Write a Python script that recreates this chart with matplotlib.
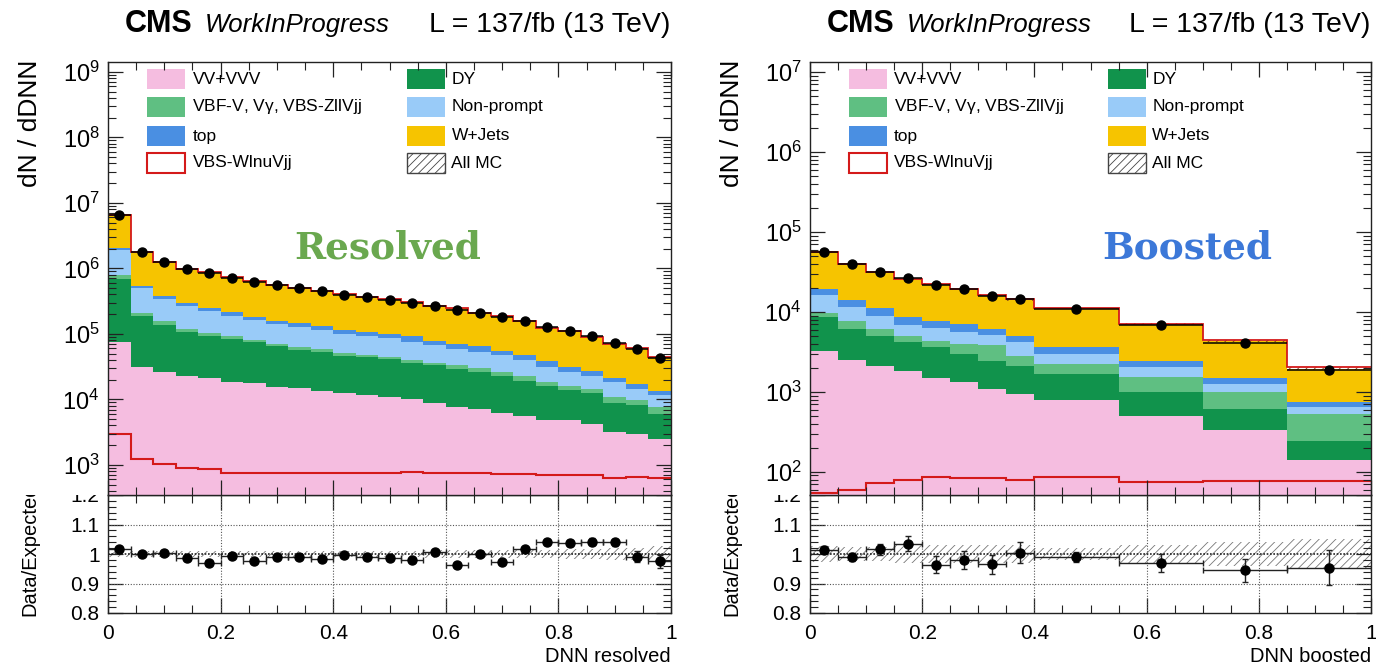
import numpy as np
import matplotlib
matplotlib.use("Agg")
import matplotlib.pyplot as plt
from matplotlib.patches import Rectangle
from matplotlib.ticker import MultipleLocator, FixedLocator, NullFormatter, FuncFormatter, LogFormatterSciNotation

plt.rcParams['font.family'] = ['Liberation Sans', 'DejaVu Sans']
plt.rcParams['hatch.linewidth'] = 0.6
plt.rcParams['mathtext.default'] = 'regular'

# ---------------- data: resolved ----------------
res_edges = [0.00, 0.04, 0.08, 0.12, 0.16, 0.20, 0.24, 0.28, 0.32, 0.36, 0.40, 0.44, 0.48,
             0.52, 0.56, 0.60, 0.64, 0.68, 0.72, 0.76, 0.80, 0.84, 0.88, 0.92, 0.96, 1.00]
res_vv = [74000, 31600, 26000, 22400, 20900, 18600, 17800, 15700, 14800, 13650, 12300, 11750, 10960,
          10230, 8910, 7760, 7080, 6170, 5500, 4900, 4790, 4170, 3160, 2950, 2450]
res_dy = [618000, 156800, 111100, 86000, 70300, 64600, 56300, 48900, 42700, 38850, 33400, 31900, 29740,
          26070, 24190, 21740, 18920, 16730, 13550, 11300, 9170, 8130, 5750, 5370, 3440]
res_vbf = [102000, 18600, 17800, 10700, 11100, 10100, 7200, 5600, 6600, 6400, 5600, 4250, 4000,
           3500, 3200, 3600, 4200, 3400, 3350, 2400, 2240, 2000, 2050, 1450, 1700]
res_np = [1111000, 292000, 187100, 143900, 121600, 97200, 80900, 72100, 64200, 55900, 48700, 45400, 40400,
          36100, 31300, 25800, 23500, 20500, 17400, 13000, 10100, 8600, 7240, 4530, 4160]
res_top = [137000, 42000, 38200, 32100, 27300, 23300, 19800, 17200, 15700, 17000, 14800, 15100, 14900,
           15300, 10000, 10300, 10900, 8200, 7000, 6400, 5300, 4300, 3200, 2700, 1900]
res_w = [4461000, 1225000, 886000, 694800, 619900, 515000, 449800, 395000, 362800, 322200, 284100, 254500, 236100,
         210500, 183800, 174700, 144300, 131900, 109200, 85600, 76700, 62340, 48280, 42430, 30060]
res_sig = [2950, 1230, 1020, 890, 870, 760, 760, 745, 745, 745, 745, 745, 760,
           770, 760, 745, 740, 735, 720, 700, 690, 700, 640, 650, 630]
res_data = [6607000, 1766000, 1270000, 977000, 845000, 724400, 616600, 549500, 501200, 446700, 398100, 358900, 331100,
            295100, 263000, 234400, 208900, 182000, 158500, 128800, 112200, 93300, 72400, 58900, 42660]
res_ratio_err = [0.006, 0.005, 0.005, 0.005, 0.006, 0.005, 0.006, 0.005, 0.005, 0.005, 0.005, 0.005, 0.005,
                 0.005, 0.006, 0.006, 0.006, 0.006, 0.008, 0.010, 0.010, 0.012, 0.013, 0.018, 0.022]
res_mc_unc = [0.010, 0.010, 0.010, 0.010, 0.010, 0.010, 0.010, 0.010, 0.010, 0.010, 0.010, 0.010, 0.010,
              0.010, 0.012, 0.012, 0.013, 0.013, 0.014, 0.015, 0.016, 0.017, 0.019, 0.022, 0.026]

# ---------------- data: boosted ----------------
boo_edges = [0.00, 0.05, 0.10, 0.15, 0.20, 0.25, 0.30, 0.35, 0.40, 0.55, 0.70, 0.85, 1.00]
boo_vv = [3220, 2535, 2090, 1810, 1500, 1330, 1100, 927, 802, 497, 329, 140]
boo_dy = [5490, 3635, 2880, 2360, 2110, 1660, 1315, 1163, 878, 503, 288, 105]
boo_vbf = [1060, 1470, 1060, 890, 760, 1030, 1475, 700, 580, 540, 383, 276]
boo_np = [6710, 3910, 2800, 1860, 1940, 1600, 1320, 1430, 725, 513, 259, 122]
boo_top = [3020, 2710, 2390, 1740, 1330, 1460, 920, 840, 625, 402, 237, 107]
boo_w = [35900, 25940, 19880, 17040, 14660, 12420, 10140, 9170, 7500, 4565, 2844, 1200]
boo_sig = [54, 60, 73, 78, 87, 83, 83, 80, 86, 74, 76, 76]
boo_data = [56200, 39800, 31600, 26600, 21500, 19100, 15700, 14300, 11000, 6810, 4100, 1860]
boo_ratio_err = [0.012, 0.015, 0.018, 0.025, 0.030, 0.030, 0.033, 0.035, 0.018, 0.030, 0.040, 0.060]
boo_mc_unc = [0.028, 0.025, 0.025, 0.030, 0.030, 0.030, 0.030, 0.030, 0.020, 0.030, 0.040, 0.050]

proc_labels = ['VV+VVV', 'DY', 'VBF-V, V$\\gamma$, VBS-ZllVjj', 'Non-prompt', 'top', 'W+Jets']
proc_colors = ['#f5bde0', '#11934c', '#5fbf82', '#99cbf8', '#4a8fe2', '#f6c400']
sig_color = '#d41a1a'

W, H = 1376, 667
fig = plt.figure(figsize=(W / 100, H / 100), dpi=100)


def rect(x0, ytop, x1, ybot):
    return [x0 / W, 1 - ybot / H, (x1 - x0) / W, (ybot - ytop) / H]


def fx(px):
    return px / W


def fy(py):
    return 1 - py / H


def style_axes(ax):
    for s in ax.spines.values():
        s.set_linewidth(1.0)
        s.set_color('#222222')
    ax.tick_params(which='both', direction='in', top=True, right=True, color='#222222')
    ax.tick_params(which='major', length=11, width=0.9)
    ax.tick_params(which='minor', length=6, width=0.8)


def panel(x0, x1, edges, comps, sig, data, rerr, unc, ylim, big_text, big_color, big_x, xlabel):
    edges = np.array(edges, dtype=float)
    centers = 0.5 * (edges[1:] + edges[:-1])
    halfw = 0.5 * np.diff(edges)

    axr = fig.add_axes(rect(x0, 495, x1, 613), zorder=0)
    cover = fig.add_axes(rect(x0 - 106, 430, x0 - 2, 495), zorder=1)
    cover.set_xticks([]); cover.set_yticks([])
    for s in cover.spines.values():
        s.set_visible(False)
    ax = fig.add_axes(rect(x0, 62, x1, 495), zorder=2)

    # stack
    base = np.full(len(centers), 1e-2)
    for vals, col in zip(comps, proc_colors):
        topv = base + np.array(vals, dtype=float)
        ax.stairs(topv, edges, baseline=base, fill=True, color=col, lw=0, antialiased=False)
        base = topv
    total = base
    unc = np.array(unc)
    ax.bar(edges[:-1], total * 2 * unc, bottom=total * (1 - unc), width=np.diff(edges), align='edge',
           fill=False, hatch='////', edgecolor='#7a3b1a', lw=0)
    ax.stairs(total + np.array(sig), edges, baseline=None, color=sig_color, lw=1.3)
    ax.stairs(np.array(sig, dtype=float), edges, baseline=None, color=sig_color, lw=1.5)
    ax.errorbar(centers, data, xerr=halfw, fmt='o', color='k', ms=6.5, elinewidth=1.1, capsize=0)

    ax.set_yscale('log')
    ax.set_ylim(*ylim)
    ax.set_xlim(0, 1)
    lo, hi = np.log10(ylim[0]), np.log10(ylim[1])
    decades = list(range(int(np.ceil(lo)), int(np.floor(hi)) + 1))
    majors = [10.0 ** k for k in decades]
    minors = [m * 10.0 ** k for k in range(int(np.floor(lo)), int(np.floor(hi)) + 1)
              for m in range(2, 10) if ylim[0] <= m * 10.0 ** k <= ylim[1]]
    ax.yaxis.set_major_locator(FixedLocator(majors))
    ax.yaxis.set_major_formatter(LogFormatterSciNotation())
    ax.yaxis.set_minor_locator(FixedLocator(minors))
    ax.yaxis.set_minor_formatter(NullFormatter())
    ax.xaxis.set_major_locator(FixedLocator([0, 0.2, 0.4, 0.6, 0.8, 1.0]))
    ax.xaxis.set_minor_locator(FixedLocator(list(np.arange(0.05, 1.0, 0.05))))
    ax.xaxis.set_major_formatter(NullFormatter())
    style_axes(ax)
    ax.tick_params(axis='y', labelsize=17, pad=6)

    # legend (manual, two columns)
    cols_x = [(0.069, 0.150), (0.531, 0.610)]
    rows_y = [79, 107, 136, 163]
    entries_left = [0, 2, 4, 'sig']
    entries_right = [1, 3, 5, 'mc']
    axh = 495 - 62
    for col, entries in zip(cols_x, [entries_left, entries_right]):
        for ry, ent in zip(rows_y, entries):
            yc = 1 - (ry - 62) / axh
            hh = 20 / axh
            ww = 38 / (x1 - x0)
            if ent == 'sig':
                ax.add_patch(Rectangle((col[0], yc - hh / 2), ww, hh, transform=ax.transAxes,
                                       facecolor='white', edgecolor=sig_color, lw=1.5))
                lab = 'VBS-WlnuVjj'
            elif ent == 'mc':
                ax.add_patch(Rectangle((col[0], yc - hh / 2), ww, hh, transform=ax.transAxes,
                                       facecolor='white', edgecolor='#444444', hatch='////', lw=1.0))
                lab = 'All MC'
            else:
                ax.add_patch(Rectangle((col[0], yc - hh / 2), ww, hh, transform=ax.transAxes,
                                       facecolor=proc_colors[ent], edgecolor='none'))
                lab = proc_labels[ent]
            ax.text(col[1], yc, lab, transform=ax.transAxes, ha='left', va='center', fontsize=12.5)

    # big label
    ax.text(fx(big_x), fy(248), big_text, transform=fig.transFigure, ha='center', va='center',
            fontsize=27, fontweight='bold', family='DejaVu Serif', color=big_color)

    # title
    ax.text(fx(x0 + 17), fy(32), 'CMS', transform=fig.transFigure, fontsize=22, fontweight='bold',
            ha='left', va='baseline')
    ax.text(fx(x0 + 97), fy(32), 'WorkInProgress', transform=fig.transFigure, fontsize=18.5,
            style='italic', ha='left', va='baseline')
    ax.text(fx(x1 - 1), fy(32), 'L = 137/fb (13 TeV)', transform=fig.transFigure, fontsize=20.5,
            ha='right', va='baseline')
    ax.text(fx(x0 - 78), fy(60), 'dN / dDNN', transform=fig.transFigure, rotation=90, fontsize=19,
            ha='center', va='top')

    # ratio panel
    ratio = np.array(data) / total
    axr.bar(edges[:-1], 2 * unc, bottom=1 - unc, width=np.diff(edges), align='edge',
            fill=False, hatch='////', edgecolor='#777777', lw=0)
    for yv in (0.9, 1.1):
        axr.axhline(yv, color='#555555', ls=(0, (1, 1.5)), lw=0.8)
    for xv in (0.2, 0.4, 0.6, 0.8):
        axr.axvline(xv, color='#555555', ls=(0, (1, 1.5)), lw=0.8)
    axr.axhline(1.0, color='#222222', ls=(0, (1, 1)), lw=1.2)
    axr.errorbar(centers, ratio, xerr=halfw, yerr=rerr, fmt='o', color='k', ms=6.5,
                 elinewidth=1.0, capsize=2, ecolor='#222222')
    axr.set_xlim(0, 1)
    axr.set_ylim(0.8, 1.2)
    axr.yaxis.set_major_locator(FixedLocator([0.8, 0.9, 1.0, 1.1, 1.2]))
    axr.yaxis.set_minor_locator(FixedLocator(list(np.arange(0.82, 1.19, 0.02))))
    axr.xaxis.set_major_locator(FixedLocator([0, 0.2, 0.4, 0.6, 0.8, 1.0]))
    axr.xaxis.set_minor_locator(FixedLocator(list(np.arange(0.05, 1.0, 0.05))))
    axr.yaxis.set_major_formatter(FuncFormatter(lambda v, p: '%g' % round(v, 2)))
    axr.xaxis.set_major_formatter(FuncFormatter(lambda v, p: '%g' % round(v, 2)))
    style_axes(axr)
    axr.tick_params(axis='both', labelsize=15)
    axr.tick_params(axis='x', pad=8)
    axr.tick_params(axis='y', pad=6)
    axr.text(fx(x0 - 78), fy(616), 'Data/Expected', transform=fig.transFigure, rotation=90,
             fontsize=14.5, ha='center', va='bottom')
    axr.text(fx(x1), fy(666), xlabel, transform=fig.transFigure, fontsize=14.5, ha='right',
             va='bottom')
    return ax, axr


panel(108, 671, res_edges, [res_vv, res_dy, res_vbf, res_np, res_top, res_w], res_sig, res_data,
      res_ratio_err, res_mc_unc, (10 ** 2.54, 10 ** 9.15), 'Resolved', '#6aa84f', 388, 'DNN resolved')
panel(810, 1371, boo_edges, [boo_vv, boo_dy, boo_vbf, boo_np, boo_top, boo_w], boo_sig, boo_data,
      boo_ratio_err, boo_mc_unc, (10 ** 1.71, 10 ** 7.125), 'Boosted', '#3c78d8', 1187, 'DNN boosted')

fig.savefig('out.png', dpi=100)
